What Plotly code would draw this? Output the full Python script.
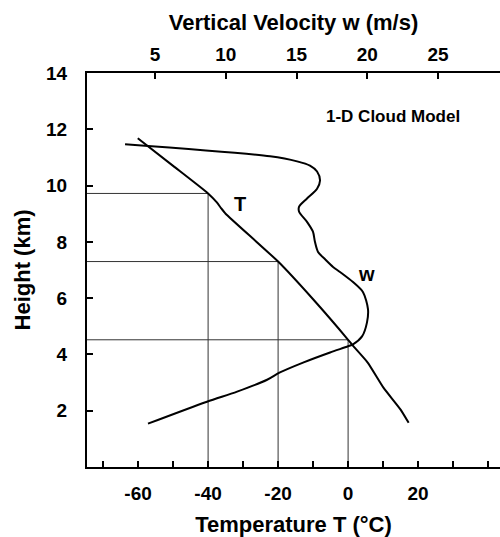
import plotly.graph_objects as go

# Temperature profile (T in °C, height in km)
temp_T = [-60.1, -50.0, -40.0, -37.5, -36.3, -35.0, -20.0, -10.0, 0.0, 1.3, 5.6, 10.1, 15.0, 17.3]
temp_h = [11.68, 10.70, 9.72, 9.40, 9.20, 9.00, 7.30, 5.96, 4.52, 4.32, 3.71, 2.82, 2.04, 1.57]

# Vertical velocity profile (w in m/s, height in km)
vel_w = [2.88, 13.13, 15.04, 15.95, 16.45, 16.66, 16.45, 15.74, 15.18, 15.18, 15.74, 16.16,
         16.30, 16.52, 17.00, 17.58, 18.07, 18.99, 19.70, 20.05, 19.98, 19.63, 18.99, 18.64,
         17.37, 15.46, 13.83, 12.92, 10.80, 8.67, 4.50]
vel_h = [11.47, 11.04, 10.86, 10.71, 10.50, 10.18, 9.89, 9.54, 9.25, 9.07, 8.71, 8.36,
         8.00, 7.64, 7.39, 7.11, 6.93, 6.57, 6.21, 5.61, 5.14, 4.64, 4.36, 4.29,
         4.07, 3.71, 3.36, 3.10, 2.68, 2.32, 1.54]

# Reference isotherms and their heights on the T profile
guide_T = [-40, -20, 0]
guide_h = [9.72, 7.30, 4.52]

# Axis ticks
T_tickvals = [-70, -60, -50, -40, -30, -20, -10, 0, 10, 20, 30, 40]
T_ticktext = ["", "-60", "", "-40", "", "-20", "", "0", "", "20", "", ""]
w_tickvals = [5, 10, 15, 20, 25]
h_tickvals = [2, 4, 6, 8, 10, 12, 14]

T_range = [-74.6, 43.4]
w_range = [0.19, 29.38]
h_range = [0, 14]

FONT = "Liberation Sans, Arial, sans-serif"

fig = go.Figure()

for t, h in zip(guide_T, guide_h):
    fig.add_trace(go.Scatter(x=[T_range[0], t, t], y=[h, h, 0], mode="lines",
                             line=dict(color="#333333", width=1), showlegend=False,
                             hoverinfo="skip"))

fig.add_trace(go.Scatter(x=temp_T, y=temp_h, mode="lines", name="T",
                         line=dict(color="black", width=2, shape="spline", smoothing=0.5),
                         showlegend=False))
fig.add_trace(go.Scatter(x=vel_w, y=vel_h, mode="lines", name="w", xaxis="x2",
                         line=dict(color="black", width=2, shape="spline", smoothing=0.8),
                         showlegend=False))

lab_font = dict(family=FONT, size=20, color="black", weight="bold")
fig.add_annotation(x=-31, y=9.36, text="T", showarrow=False, font=lab_font, xref="x", yref="y")
fig.add_annotation(x=5.3, y=6.86, text="w", showarrow=False, font=lab_font, xref="x", yref="y")
fig.add_annotation(x=12.7, y=12.46, text="1-D Cloud Model", showarrow=False,
                   font=dict(family=FONT, size=17, color="black", weight="bold"),
                   xref="x", yref="y")

axis_font = dict(family=FONT, size=19, color="black", weight="bold")
title_font = dict(family=FONT, size=22, color="black", weight="bold")

fig.update_layout(
    width=500, height=537,
    margin=dict(l=87, r=0, t=73, b=70),
    paper_bgcolor="white", plot_bgcolor="white",
    font=dict(family=FONT, color="black"),
    xaxis=dict(range=T_range, tickvals=T_tickvals, ticktext=T_ticktext, automargin=False,
               ticks="inside", ticklen=6, tickwidth=1.5, tickcolor="black",
               showline=True, linecolor="black", linewidth=2, showgrid=False,
               zeroline=False, tickfont=axis_font, ticklabelstandoff=8,
               title=dict(text="Temperature T (°C)", font=title_font, standoff=22)),
    xaxis2=dict(range=w_range, overlaying="x", side="top", anchor="y", automargin=False,
                tickvals=w_tickvals, ticks="inside", ticklen=6, tickwidth=1.5,
                tickcolor="black", showline=True, linecolor="black", linewidth=2,
                showgrid=False, zeroline=False, tickfont=axis_font, ticklabelstandoff=2,
                title=dict(text="Vertical Velocity w (m/s)", font=title_font, standoff=8)),
    yaxis=dict(range=h_range, tickvals=h_tickvals, ticks="inside", ticklen=6, automargin=False,
               tickwidth=1.5, tickcolor="black", showline=True, linecolor="black",
               linewidth=2, showgrid=False, zeroline=False, tickfont=axis_font,
               ticklabelstandoff=14,
               title=dict(text="Height (km)", font=title_font, standoff=9)),
)

fig.write_html("out.html", config={"displayModeBar": False},
               post_script="document.body.style.margin='0';document.body.style.overflow='hidden';")
